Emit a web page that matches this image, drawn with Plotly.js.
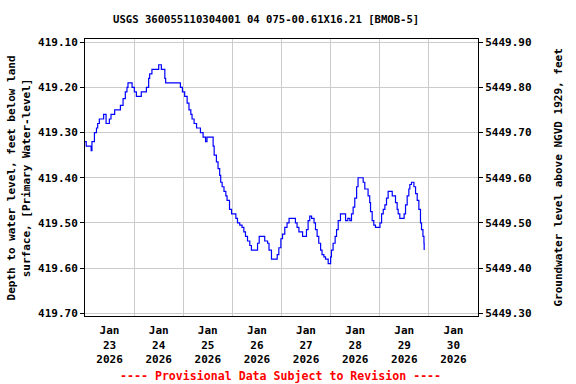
<!DOCTYPE html>
<html>
<head>
<meta charset="utf-8">
<script src="https://cdn.plot.ly/plotly-3.0.1.min.js"></script>
<style>html,body{margin:0;padding:0;background:#fff;}</style>
</head>
<body>
<div id="chart" style="width:576px;height:384px;"></div>
<script>
// Hours since 2026-01-23 00:00
var startDate = "2026-01-23T00:00:00Z";
var hours = [0,0.6,2.8,3.0,3.4,4.6,5.6,6.2,7.0,8.8,9.1,10.3,11.1,11.9,12.7,14.4,14.5,16.3,17.3,18.6,19.7,20.5,21.0,22.3,23.0,24.1,25.1,27.1,27.5,29.5,30.0,31.1,31.6,32.7,34.4,36.0,36.8,37.3,38.5,39.0,39.4,40.9,45.9,46.6,47.6,48.7,49.9,50.8,51.7,52.3,53.3,54.5,55.7,56.4,57.7,58.9,59.6,61.8,62.6,63.1,64.2,65.0,65.8,66.3,67.0,67.9,68.8,69.4,70.6,71.6,73.2,73.7,74.5,75.6,76.7,77.6,78.4,79.4,80.5,81.3,83.8,84.3,85.1,87.4,87.8,89.2,89.9,91.1,93.6,93.9,94.7,95.7,96.5,97.6,98.7,99.7,102.2,102.8,103.6,104.5,106.3,107.7,108.2,109.0,109.8,110.7,111.4,111.9,112.6,113.4,114.2,115.1,115.8,116.7,117.5,118.8,119.6,120.0,120.4,121.2,122.2,122.9,123.7,124.8,126.5,127.3,128.4,129.4,130.2,131.0,131.8,132.7,133.4,135.6,135.9,136.7,137.5,138.3,139.1,139.5,140.3,141.1,141.9,143.6,144.1,144.9,145.7,146.5,147.3,148.1,149.8,150.1,151.0,151.7,152.5,153.0,153.8,155.4,155.9,156.6,157.4,158.2,158.7,159.5,160.3,160.7,161.5,162.3,163.1,163.9,164.4,165.1,165.6,165.7];
var depth = [419.32,419.33,419.33,419.34,419.32,419.30,419.29,419.28,419.27,419.27,419.26,419.28,419.28,419.27,419.26,419.26,419.25,419.25,419.24,419.225,419.21,419.20,419.19,419.19,419.20,419.21,419.22,419.22,419.21,419.21,419.20,419.18,419.17,419.16,419.16,419.15,419.15,419.16,419.16,419.18,419.19,419.19,419.19,419.20,419.21,419.22,419.235,419.25,419.26,419.27,419.28,419.29,419.29,419.30,419.31,419.32,419.31,419.31,419.33,419.35,419.365,419.38,419.395,419.41,419.42,419.43,419.44,419.45,419.47,419.48,419.48,419.49,419.50,419.505,419.51,419.52,419.53,419.54,419.55,419.56,419.56,419.545,419.53,419.53,419.54,419.545,419.56,419.58,419.58,419.57,419.555,419.535,419.525,419.51,419.50,419.49,419.49,419.50,419.51,419.52,419.53,419.53,419.515,419.495,419.485,419.49,419.49,419.50,419.515,419.53,419.545,419.56,419.57,419.575,419.58,419.59,419.59,419.575,419.56,419.545,419.53,419.515,419.495,419.48,419.48,419.495,419.49,419.495,419.48,419.465,419.445,419.42,419.40,419.40,419.41,419.425,419.425,419.44,419.455,419.475,419.495,419.505,419.51,419.51,419.50,419.48,419.47,419.46,419.445,419.43,419.43,419.44,419.44,419.455,419.47,419.48,419.49,419.49,419.48,419.46,419.44,419.425,419.415,419.41,419.41,419.42,419.435,419.45,419.47,419.50,419.515,419.53,419.545,419.56];
var datumOffset = 5869.0; // elevation = datumOffset - depth
var leftTicks = [419.10,419.20,419.30,419.40,419.50,419.60,419.70];
var rightTicks = [5449.30,5449.40,5449.50,5449.60,5449.70,5449.80,5449.90];

function pad(n){return (n<10?"0":"")+n;}
var t0 = Date.parse(startDate);
var xs = hours.map(function(h){
  var d = new Date(t0 + Math.round(h*3600000));
  return d.getUTCFullYear()+"-"+pad(d.getUTCMonth()+1)+"-"+pad(d.getUTCDate())+" "+pad(d.getUTCHours())+":"+pad(d.getUTCMinutes())+":00";
});
var elev = depth.map(function(v){return datumOffset - v;});

var fontFam = "DejaVu Sans Mono, monospace";
var yTop = 419.093, yBot = 419.706;

var traces = [
  {x: xs, y: depth, type: "scatter", mode: "lines", line: {color: "#0000ff", width: 1.2, shape: "hv"}, xaxis: "x", yaxis: "y", hoverinfo: "skip"},
  {x: xs, y: elev, type: "scatter", mode: "lines", line: {color: "rgba(0,0,0,0)", width: 0}, xaxis: "x", yaxis: "y2", hoverinfo: "skip"}
];

var layout = {
  width: 576, height: 384,
  margin: {l: 85, r: 98, t: 39, b: 68, pad: 0},
  paper_bgcolor: "#ffffff", plot_bgcolor: "#ffffff",
  showlegend: false,
  font: {family: fontFam, size: 11, color: "#000", weight: "bold"},
  title: {text: "USGS 360055110304001 04 075-00.61X16.21 [BMOB-5]", x: 0.462, xanchor: "center", y: 0.951, yanchor: "middle", font: {family: fontFam, size: 10.6, color: "#000", weight: "bold"}},
  xaxis: {
    type: "date",
    range: ["2026-01-23 00:00:00", "2026-01-31 00:00:00"],
    dtick: 86400000, tick0: "2026-01-23",
    ticklabelmode: "period",
    tickformat: "%b<br>%d<br>%Y",
    ticklabelstandoff: 4,
    showgrid: true, gridcolor: "#cccccc", gridwidth: 1,
    showline: true, linecolor: "#000", linewidth: 1, mirror: true,
    ticks: "", zeroline: false,
    tickfont: {family: fontFam, size: 11, color: "#000", weight: "bold"}
  },
  yaxis: {
    range: [yBot, yTop],
    tickvals: leftTicks, tickformat: ".2f",
    showgrid: true, gridcolor: "#cccccc", gridwidth: 1,
    showline: true, linecolor: "#000", linewidth: 1, mirror: true,
    ticks: "outside", ticklen: 4, tickcolor: "#000",
    zeroline: false,
    tickfont: {family: fontFam, size: 11, color: "#000", weight: "bold"}
  },
  yaxis2: {
    overlaying: "y", side: "right",
    range: [datumOffset - yBot, datumOffset - yTop],
    tickvals: rightTicks, tickformat: ".2f",
    showgrid: false, showline: true, linecolor: "#000", linewidth: 1,
    ticks: "outside", ticklen: 4, tickcolor: "#000",
    zeroline: false,
    tickfont: {family: fontFam, size: 11, color: "#000", weight: "bold"}
  },
  annotations: [
    {text: "Depth to water level, feet below land<br>surface, [Primary Water-level]", xref: "paper", yref: "paper", x: -0.168, y: 0.5, xanchor: "center", yanchor: "middle", textangle: -90, showarrow: false, font: {family: fontFam, size: 11, color: "#000", weight: "bold"}},
    {text: "Groundwater level above NGVD 1929, feet", xref: "paper", yref: "paper", x: 1.2036, y: 0.5, xanchor: "center", yanchor: "middle", textangle: -90, showarrow: false, font: {family: fontFam, size: 11, color: "#000", weight: "bold"}},
    {text: "---- Provisional Data Subject to Revision ----", xref: "paper", yref: "paper", x: 0.498, y: -0.2166, xanchor: "center", yanchor: "middle", showarrow: false, font: {family: fontFam, size: 11.6, color: "#ff0000", weight: "bold"}}
  ]
};

Plotly.newPlot("chart", traces, layout, {staticPlot: true, displayModeBar: false});
</script>
</body>
</html>
